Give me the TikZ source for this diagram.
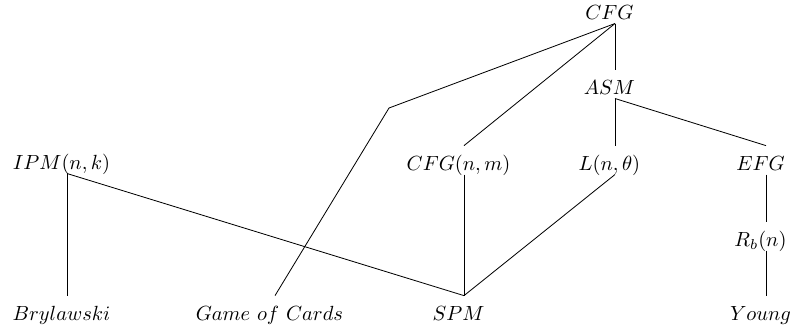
\documentclass[tikz,border=0pt]{standalone}
\begin{document}
\begin{tikzpicture}[x=0.488pt,y=-0.488pt,
  famstyle/.style={anchor=base,inner sep=0pt,text height=11.7pt,text depth=2pt,
    execute at end node={\hspace{5.4pt}}}]
\useasboundingbox (0,0) rectangle (794,331);
\node[famstyle](CFG) at (615,19){$CFG$};
\node[famstyle](ASM) at (615,94){$ASM$};
\node[famstyle](IPM) at (67,169){$IPM(n,k)$};
\node[famstyle](CFGnm) at (464,170){$CFG(n,m)$};
\node[famstyle](Ln) at (615,170){$L(n,\theta)$};
\node[famstyle](EFG) at (766,170){$EFG$};
\node[famstyle](Rb) at (766,246){$R_b(n)$};
\node[famstyle](Bry) at (67,320){$Brylawski$};
\node[famstyle](Cards) at (275,320){$Game\ of\ Cards$};
\node[famstyle](SPM) at (464,320){$SPM$};
\node[famstyle](Young) at (766,320){$Young$};
\coordinate (bend) at (389,108);
\draw (CFG.south)--(ASM.north);
\draw (CFG.south)--(bend)--(Cards.north);
\draw (CFG.south)--(CFGnm.north);
\draw (ASM.south)--(Ln.north);
\draw (ASM.south)--(EFG.north);
\draw (EFG.south)--(Rb.north);
\draw (Rb.south)--(Young.north);
\draw (IPM.south)--(Bry.north);
\draw (IPM.south)--(SPM.north);
\draw (CFGnm.south)--(SPM.north);
\draw (Ln.south)--(SPM.north);
\end{tikzpicture}
\end{document}
